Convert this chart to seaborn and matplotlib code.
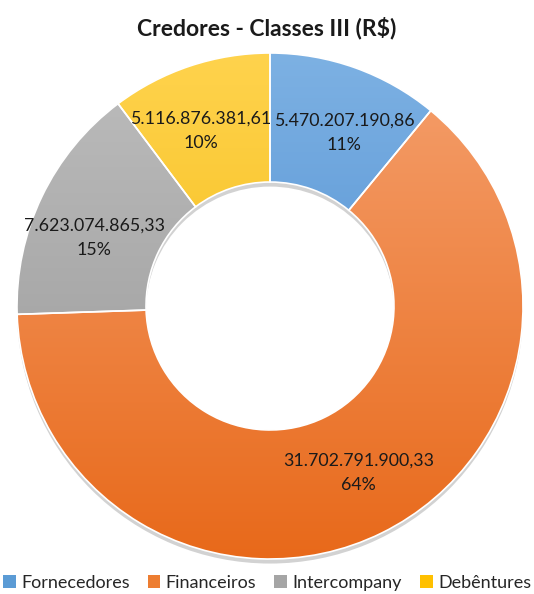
import numpy as np
import seaborn as sns
import matplotlib
matplotlib.use("Agg")
import matplotlib.pyplot as plt
from matplotlib.colors import LinearSegmentedColormap
from matplotlib.patches import Patch

# data
categorias = ["Fornecedores", "Financeiros", "Intercompany", "Debêntures"]
valores = [5470207190.86, 31702791900.33, 7623074865.33, 5116876381.61]
rotulos_valor = ["5.470.207.190,86", "31.702.791.900,33", "7.623.074.865,33", "5.116.876.381,61"]
# cores (topo, base) do degradê de cada fatia
cores_topo = ["#7DB1E3", "#F5A06E", "#BDBDBD", "#FFD34D"]
cores_base = ["#3F83CC", "#E8691A", "#959595", "#EFB300"]
cores_legenda = ["#5B9BD5", "#ED7D31", "#A5A5A5", "#FFC000"]
# pequeno ajuste angular dos rótulos (graus) para não se sobreporem
ajuste_ang = [-3.5, 1.8, 4.4, 3.0]

sns.set_theme(style="white")
plt.rcParams['font.family'] = ['Lato', 'DejaVu Sans']

fig = plt.figure(figsize=(5.34, 5.94), dpi=100)
cx, cy, r = 270, 306, 253
ax = fig.add_axes([(cx - r) / 534, (594 - cy - r) / 594, 2 * r / 534, 2 * r / 594])
ax.set_xlim(-1, 1)
ax.set_ylim(-1, 1)
ax.axis('off')

largura = 0.51
# sombra
sombra, _ = ax.pie([1], radius=1.0, startangle=90, center=(0, -0.018),
                   colors=["#7f7f7f"], wedgeprops=dict(width=largura, linewidth=0, alpha=0.35))
for w in sombra:
    w.set_zorder(0)

fatias, _ = ax.pie(valores, radius=1.0, startangle=90, counterclock=False,
                   colors=cores_legenda,
                   wedgeprops=dict(width=largura, edgecolor='white', linewidth=1.2))
ax.set_xlim(-1, 1)
ax.set_ylim(-1, 1)

grad = np.linspace(0, 1, 256).reshape(-1, 1)
for w, ct, cb in zip(fatias, cores_topo, cores_base):
    cmap = LinearSegmentedColormap.from_list("g", [ct, cb])
    im = ax.imshow(grad, cmap=cmap, extent=[-1, 1, -1, 1], aspect='auto',
                   origin='upper', zorder=1)
    im.set_clip_path(w)
    w.set_facecolor('none')
    w.set_zorder(2)

total = sum(valores)
ang = 90.0
rm = 0.745
for v, txt, da in zip(valores, rotulos_valor, ajuste_ang):
    frac = v / total
    meio = np.radians(ang - frac * 360 / 2 + da)
    ang -= frac * 360
    ax.text(rm * np.cos(meio), rm * np.sin(meio), f"{txt}\n{frac*100:.0f}%",
            ha='center', va='center', fontsize=12.8, color='#1a1a1a',
            linespacing=1.65, zorder=5)

fig.text(0.5, 1 - 28 / 594, "Credores - Classes III (R$)", ha='center', va='center',
         fontsize=16.5, fontweight='bold', color='#1a1a1a')

handles = [Patch(facecolor=c, edgecolor='none') for c in cores_legenda]
fig.legend(handles, categorias, loc='lower center', bbox_to_anchor=(0.5, -0.022), ncol=4,
           frameon=False, fontsize=13, handlelength=0.7, handleheight=0.7,
           handletextpad=0.3, columnspacing=1.0, labelcolor='#262626')

fig.savefig("out.png", dpi=100, facecolor='white')
